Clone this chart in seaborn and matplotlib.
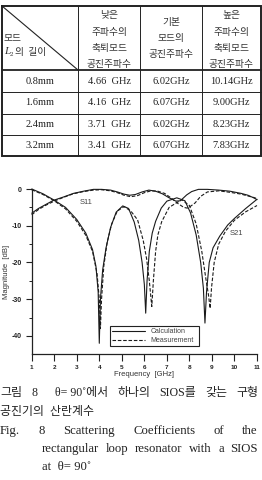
import matplotlib
matplotlib.use("Agg")
import matplotlib.pyplot as plt
import seaborn as sns
import pandas as pd
import numpy as np

# ---------------- data ----------------
# table
table_rows = ["0.8mm", "1.6mm", "2.4mm", "3.2mm"]
low_mode = ["4.66  GHz", "4.16  GHz", "3.71  GHz", "3.41  GHz"]
base_mode = ["6.02GHz", "6.07GHz", "6.02GHz", "6.07GHz"]
high_mode = ["10.14GHz", "9.00GHz", "8.23GHz", "7.83GHz"]
header_low = ["낮은", "주파수의", "축퇴모드", "공진주파수"]
header_base = ["기본", "모드의", "공진주파수"]
header_high = ["높은", "주파수의", "축퇴모드", "공진주파수"]

# curves: calculation
calc_dip_f = [1.0, 1.5, 1.96, 2.5, 3.0, 3.4, 3.7, 3.85, 3.95, 4.0, 4.05, 4.15, 4.3, 4.5,
              4.75, 5.04, 5.3, 5.55, 5.75, 5.9, 6.0, 6.06, 6.12, 6.22, 6.35, 6.5, 6.75,
              7.0, 7.44, 7.8, 8.05, 8.3, 8.5, 8.62, 8.69, 8.76, 8.88, 9.05, 9.35, 9.7,
              10.0, 10.5, 11.0]
calc_dip_db = [0.0, -1.3, -2.9, -5.0, -8.3, -12.0, -16.5, -21.0, -28.0, -42.0, -30.0,
               -22.0, -16.0, -10.5, -6.3, -4.6, -5.3, -9.0, -14.0, -20.0, -26.0, -33.8,
               -25.0, -17.0, -12.0, -8.8, -5.2, -3.3, -2.4, -3.2, -6.5, -12.5, -20.0,
               -27.0, -36.5, -28.0, -20.0, -16.0, -12.8, -9.8, -8.0, -5.3, -2.8]
calc_top_f = [1.0, 1.3, 1.6, 1.96, 2.4, 2.85, 3.3, 3.74, 4.1, 4.5, 4.8, 5.1, 5.35, 5.6,
              5.9, 6.2, 6.5, 6.8, 7.1, 7.4, 7.6, 7.88, 8.1, 8.4, 8.8, 9.3, 9.8, 10.3,
              10.6, 10.85, 11.0]
calc_top_db = [-6.6, -5.3, -4.3, -3.1, -2.2, -1.2, -0.6, -0.1, -0.1, -0.3, -0.8, -1.4,
               -1.7, -1.5, -0.8, -0.3, -0.6, -1.3, -2.4, -3.3, -3.2, -1.6, -0.7, -0.1,
               -0.1, -0.3, -0.6, -1.2, -1.7, -2.4, -2.9]
# curves: measurement
meas_dip_f = [1.0, 1.5, 2.0, 2.5, 3.0, 3.4, 3.7, 3.9, 4.0, 4.05, 4.1, 4.2, 4.35, 4.55,
              4.8, 5.1, 5.4, 5.7, 5.95, 6.1, 6.22, 6.33, 6.4, 6.5, 6.6, 6.77, 7.1, 7.66,
              8.0, 8.3, 8.55, 8.72, 8.85, 8.92, 8.98, 9.1, 9.3, 9.6, 10.0, 10.5, 11.0]
meas_dip_db = [-0.2, -1.5, -3.2, -5.4, -8.8, -12.6, -17.0, -23.0, -30.0, -38.0, -30.0,
               -21.0, -14.5, -9.5, -6.0, -4.8, -6.0, -8.4, -14.0, -19.0, -25.0, -32.0,
               -25.0, -17.0, -12.5, -8.9, -5.0, -2.9, -4.5, -9.5, -17.0, -24.0, -29.0,
               -32.5, -27.0, -20.0, -15.0, -11.5, -8.5, -6.2, -4.5]
meas_top_f = [1.0, 1.3, 1.6, 2.0, 2.4, 2.85, 3.3, 3.74, 4.1, 4.5, 4.8, 5.1, 5.4, 5.7,
              6.0, 6.3, 6.6, 6.9, 7.2, 7.5, 7.75, 7.9, 8.05, 8.25, 8.5, 8.8, 9.3, 9.8,
              10.3, 10.6, 10.85, 11.0]
meas_top_db = [-7.0, -5.6, -4.5, -3.3, -2.3, -1.3, -0.7, -0.3, -0.2, -0.5, -1.0, -1.7,
               -2.1, -1.8, -1.0, -0.5, -0.6, -1.2, -2.5, -4.0, -5.0, -5.2, -4.7, -3.8,
               -2.0, -0.8, -0.5, -0.9, -1.4, -1.9, -2.3, -2.6]

x_ticks = [1, 2, 3, 4, 5, 6, 7, 8, 9, 10, 11]
y_ticks = [0, -10, -20, -30, -40]

# caption text
cap_line1 = ["그림", "8", "", "θ= 90˚에서", "하나의", "SIOS를", "갖는", "구형"]
cap_line2 = "공진기의  산란계수"
cap_line3 = ["Fig.", "8", "Scattering", "Coefficients", "of", "the"]
cap_line4 = ["rectangular", "loop", "resonator", "with", "a", "SIOS"]
cap_line5 = "at  θ= 90˚"

# ---------------- figure ----------------
sns.set_theme(style="ticks")
plt.rcParams["font.family"] = ["Liberation Sans", "Noto Sans CJK KR"]

W, H = 262, 480
fig = plt.figure(figsize=(W / 100, H / 100), dpi=100)
fig.patch.set_facecolor("white")

# overlay in pixel coordinates for table and caption
ov = fig.add_axes([0, 0, 1, 1])
ov.set_xlim(0, W)
ov.set_ylim(H, 0)
ov.axis("off")

ink = "#222222"
serif = ["Liberation Serif", "Noto Sans CJK KR"]
kr = ["Noto Sans CJK KR", "Liberation Serif"]

# table grid
tx0, tx1, ty0, ty1 = 2, 260.5, 6, 156
col_x = [tx0, 78, 140, 202, tx1]
row_y = [70, 92, 113.5, 135, ty1]
ov.plot([tx0, tx1, tx1, tx0, tx0], [ty0, ty0, ty1, ty1, ty0], color=ink, lw=1.4,
        solid_joinstyle="miter")
for cx in col_x[1:-1]:
    ov.plot([cx, cx], [ty0, ty1], color=ink, lw=0.7)
ov.plot([tx0, tx1], [row_y[0], row_y[0]], color=ink, lw=1.3)
for ry in row_y[1:-1]:
    ov.plot([tx0, tx1], [ry, ry], color=ink, lw=0.7)
ov.plot([tx0, col_x[1]], [ty0, row_y[0]], color=ink, lw=0.8)

# header
hdr_kw = dict(ha="center", va="center", fontsize=7, color="#333333", family=kr)
cc = [(col_x[i] + col_x[i + 1]) / 2 for i in range(4)]
for txt, yy in zip(header_low, [15, 31.5, 47.5, 64]):
    ov.text(cc[1], yy, txt, **hdr_kw)
for txt, yy in zip(header_base, [21.5, 37.5, 53.5]):
    ov.text(cc[2], yy, txt, **hdr_kw)
for txt, yy in zip(header_high, [15, 31.5, 47.5, 64]):
    ov.text(cc[3], yy, txt, **hdr_kw)
ov.text(4, 37.5, "모드", ha="left", va="center", fontsize=7, color="#333333", family=kr)
ov.text(4, 51.5, "L", ha="left", va="center", fontsize=8, color="#333333",
        family=["Liberation Serif"], style="italic")
ov.text(10, 54.5, "2", ha="left", va="center", fontsize=5, color="#333333",
        family=["Liberation Serif"])
ov.text(15, 51.5, "의  길이", ha="left", va="center", fontsize=7, color="#333333", family=kr)

# body
cell_kw = dict(ha="center", va="center", fontsize=7.5, color=ink, family=serif)
for i in range(4):
    yc = (row_y[i] + row_y[i + 1]) / 2
    for j, col in enumerate([table_rows, low_mode, base_mode, high_mode]):
        ov.text(cc[j], yc, col[i], **cell_kw)

# ---------------- chart ----------------
ax_l, ax_r, ax_b, ax_t = 31.7, 257.0, 354.3, 189.0
ax = fig.add_axes([ax_l / W, 1 - ax_b / H, (ax_r - ax_l) / W, (ax_b - ax_t) / H])
ax.set_facecolor("none")

curves = [
    ("Calculation", calc_dip_f, calc_dip_db),
    ("Calculation", calc_top_f, calc_top_db),
    ("Measurement", meas_dip_f, meas_dip_db),
    ("Measurement", meas_top_f, meas_top_db),
]
styles = {"Calculation": "-", "Measurement": (0, (3.2, 1.6))}
seen = set()
for src, f, db in curves:
    df = pd.DataFrame({"Frequency": f, "Magnitude": db})
    sns.lineplot(data=df, x="Frequency", y="Magnitude", ax=ax, color="#1a1a1a",
                 linewidth=0.8, linestyle=styles[src], estimator=None, sort=False,
                 label=None if src in seen else src, clip_on=False)
    seen.add(src)

ax.set_xlim(1, 11)
ax.set_ylim(-45, 0)
ax.set_xticks(x_ticks)
ax.set_yticks(y_ticks)
ax.set_yticks([-5, -15, -25, -35], minor=True)
ax.set_xticklabels([str(v) for v in x_ticks], fontsize=4.6, fontweight="bold", color=ink)
ax.set_yticklabels([str(v) for v in y_ticks], fontsize=5, fontweight="bold", color=ink)
ax.tick_params(axis="x", which="major", direction="out", length=5, width=0.8, pad=2.5,
               color=ink)
ax.tick_params(axis="y", which="major", direction="out", length=4.5, width=0.8, pad=2.5,
               color=ink)
ax.tick_params(axis="y", which="minor", direction="out", length=2.2, width=0.7, color=ink)
for s in ["top", "right"]:
    ax.spines[s].set_visible(False)
for s in ["left", "bottom"]:
    ax.spines[s].set_linewidth(0.9)
    ax.spines[s].set_color(ink)

ax.set_xlabel("Frequency  [GHz]", fontsize=5.5, color="#333333")
ax.set_ylabel("Magnitude  [dB]", fontsize=5.5, color="#333333")
ax.xaxis.set_label_coords(0.5, -0.103)
ax.yaxis.set_label_coords(-0.098, 0.5)

ax.text(3.41, -3.6, "S11", fontsize=5.5, color="#444444", ha="center", va="center")
ax.text(10.1, -12.0, "S21", fontsize=5.5, color="#444444", ha="center", va="center")

leg = ax.legend(loc="lower left", bbox_to_anchor=(0.347, 0.05, 0.395, 0.115),
                mode="expand", fontsize=5, frameon=True, fancybox=False,
                edgecolor=ink, framealpha=1, handlelength=4.8, handletextpad=0.7,
                labelspacing=0.25, borderpad=0.3, borderaxespad=0)
leg.get_frame().set_linewidth(0.8)
for t in leg.get_texts():
    t.set_color("#444444")

# ---------------- caption (justified lines) ----------------
renderer = fig.canvas.get_renderer()
cap_kw = dict(va="center", ha="left", color=ink, family=serif)


def justify(words, y, x0, x1, fs):
    objs = [ov.text(0, y, w, fontsize=fs, **cap_kw) for w in words]
    widths = []
    for o in objs:
        if o.get_text() == "":
            widths.append(0.0)
            continue
        bb = o.get_window_extent(renderer=renderer)
        widths.append(bb.width * W / fig.bbox.width)
    gap = (x1 - x0 - sum(widths)) / (len(words) - 1)
    x = x0
    for o, w in zip(objs, widths):
        o.set_x(x)
        x += w + gap


justify(cap_line1, 393, 0, 258, 8.6)
ov.text(0, 411.5, cap_line2, fontsize=8.6, **cap_kw)
justify(cap_line3, 431, 0, 258, 9.2)
justify(cap_line4, 449, 42, 258, 9.2)
ov.text(42, 467, cap_line5, fontsize=9.2, **cap_kw)

fig.savefig("out.png", dpi=100, facecolor="white")
